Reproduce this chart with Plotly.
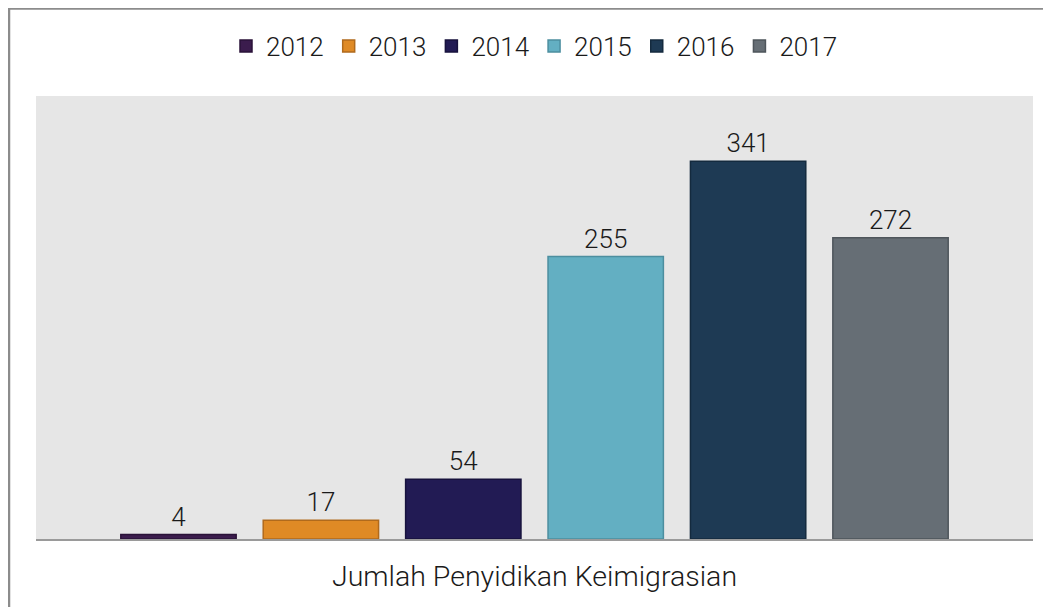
import plotly.graph_objects as go

category = "Jumlah Penyidikan Keimigrasian"
years = ["2012", "2013", "2014", "2015", "2016", "2017"]
values = [4, 17, 54, 255, 341, 272]
fill_colors = ["#3B1C4D", "#DF8A25", "#221B54", "#63AFC2", "#1E3A54", "#666E75"]
edge_colors = ["#2A1238", "#B06A1C", "#17123D", "#4C8E9F", "#142A3E", "#4E555B"]

FONT = "Roboto, Lato, DejaVu Sans, sans-serif"

# page body has an 8px margin -> figure sized 8px smaller than the window
W, H = 1043, 599
L, R, T, B = 28, 18, 88, 68
PW, PH = W - L - R, H - T - B

fig = go.Figure()
for yr, v, fc, ec in zip(years, values, fill_colors, edge_colors):
    fig.add_trace(go.Bar(
        name=yr, x=[category], y=[v],
        marker=dict(color=fc, line=dict(color=ec, width=1.5)),
        text=[str(v)], textposition="outside",
        textfont=dict(size=26, color="#1A1A1A", family=FONT, weight=300),
        cliponaxis=False,
    ))

fig.update_layout(
    width=W, height=H,
    margin=dict(l=L, r=R, t=T, b=B),
    paper_bgcolor="white", plot_bgcolor="#E6E6E6",
    barmode="group", bargap=0.143, bargroupgap=0.19,
    font=dict(family=FONT, size=26, color="#1A1A1A", weight=300),
    showlegend=True,
    legend=dict(orientation="h", x=0.5, xanchor="center", y=1 + (T - 38) / PH, yanchor="middle",
                font=dict(size=26, weight=300), itemwidth=30, tracegroupgap=0),
    xaxis=dict(showline=True, linecolor="#9A9A9A", linewidth=2, ticks="outside",
               ticklen=11, tickcolor="rgba(0,0,0,0)", tickfont=dict(size=28.5, weight=300)),
    yaxis=dict(range=[0, 400], showticklabels=False, showgrid=False, zeroline=False),
    shapes=[dict(type="rect", xref="paper", yref="paper",
                 x0=(1 - L) / PW, x1=1.2, y0=-0.3, y1=(PH + T - 0.5) / PH,
                 line=dict(color="#8C8C8C", width=2.5), fillcolor="rgba(0,0,0,0)",
                 layer="above")],
)

fig.write_html("out.html")
